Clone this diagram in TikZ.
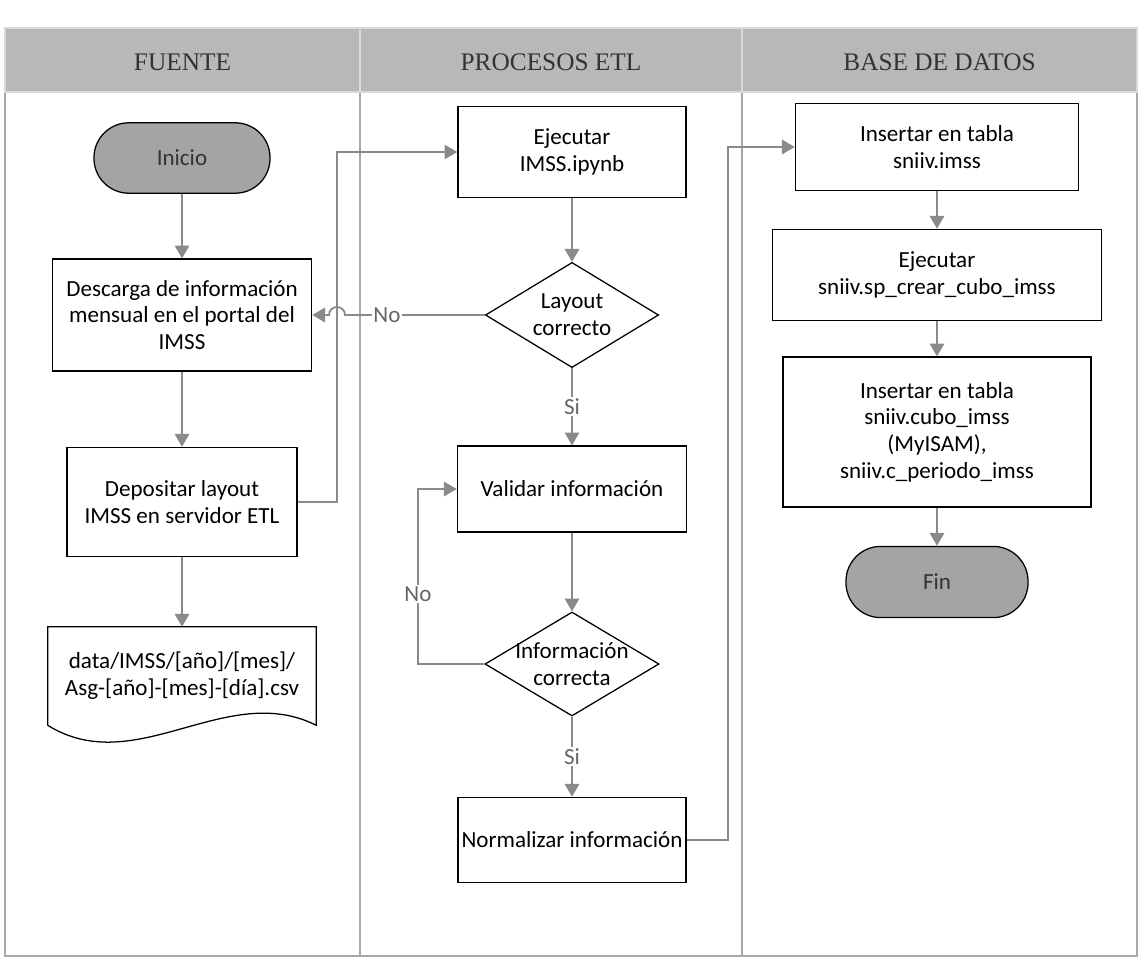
\documentclass[tikz,border=0pt]{standalone}
\usepackage{fontspec}
\setmainfont{Carlito}
\newfontfamily\titfont{Liberation Serif}
\usetikzlibrary{shapes.geometric,arrows.meta,calc}
\definecolor{gristit}{HTML}{B8B8B8}
\definecolor{grismarco}{HTML}{A8A8A8}
\definecolor{grisflecha}{HTML}{8A8A8A}
\definecolor{gristerm}{HTML}{A4A4A4}
\begin{document}
\begin{tikzpicture}[x=0.025cm,y=-0.025cm,
  font=\fontsize{16.4}{19}\selectfont,
  caja/.style={draw,line width=0.9pt,align=center,inner sep=2pt},
  terminal/.style={draw,line width=0.9pt,fill=gristerm,rounded corners=0.87cm,
    minimum width=4.4cm,minimum height=1.76cm,text=black!80},
  decision/.style={draw,line width=0.9pt,diamond,inner sep=0pt},
  flecha/.style={draw=grisflecha,line width=1.3pt,
    -{Triangle[length=0.32cm,width=0.36cm,fill=grisflecha]}},
  etiq/.style={fill=white,text=black!60,inner sep=1pt}]
\useasboundingbox (0,0) rectangle (1144,972);
% carriles
\foreach \xa/\xb/\titulo in {5/360/FUENTE,360/742/PROCESOS ETL,742/1137/BASE DE DATOS}
{
\draw[grismarco,line width=1pt] (\xa,92) rectangle (\xb,956);
\filldraw[fill=gristit,draw=white!85!black,line width=1.5pt] (\xa,28) rectangle (\xb,92);
\node[name=t\xa,text=black!80,font=\titfont\fontsize{18}{20}\selectfont] at ({(\xa+\xb)/2},62) {\titulo};
}
% FUENTE
\node[terminal] (ini) at (182,158) {Inicio};
\node[caja,minimum width=6.48cm,minimum height=2.8cm] (desc) at (182,315)
  {Descarga de información\\mensual en el portal del\\IMSS};
\node[caja,minimum width=5.75cm,minimum height=2.73cm] (dep) at (182,502)
  {Depositar layout\\IMSS en servidor ETL};
\node[align=center,minimum width=6.7cm,minimum height=2.45cm,inner sep=0pt] (doc) at (182,676)
  {data/IMSS/[año]/[mes]/\\Asg-[año]-[mes]-[día].csv};
\draw[line width=0.9pt] (doc.south west) -- (doc.north west) -- (doc.north east) -- (doc.south east)
  .. controls (226,680) and (136,780) .. (doc.south west);
% PROCESOS ETL
\node[caja,minimum width=5.7cm,minimum height=2.28cm] (eje) at (572,152) {Ejecutar\\IMSS.ipynb};
\node[decision,minimum width=4.33cm,minimum height=2.63cm,
  label={[align=center]center:Layout\\correcto}] (lay) at (572,315) {};
\node[caja,minimum width=5.73cm,minimum height=2.15cm] (val) at (572,489) {Validar información};
\node[decision,minimum width=4.35cm,minimum height=2.6cm,
  label={[align=center]center:Información\\correcta}] (ic) at (572,664) {};
\node[caja,minimum width=5.7cm,minimum height=2.13cm] (norm) at (572,840) {Normalizar información};
% BASE DE DATOS
\node[caja,minimum width=7.08cm,minimum height=2.18cm] (ins1) at (937,147) {Insertar en tabla\\sniiv.imss};
\node[caja,minimum width=8.23cm,minimum height=2.28cm] (eje2) at (937,275) {Ejecutar\\sniiv.sp\_crear\_cubo\_imss};
\node[caja,minimum width=7.7cm,minimum height=3.75cm] (ins2) at (937,432)
  {Insertar en tabla\\sniiv.cubo\_imss\\(MyISAM),\\sniiv.c\_periodo\_imss};
\node[terminal,minimum width=4.55cm,minimum height=1.78cm] (fin) at (937,582) {Fin};
% conectores
\coordinate (c1) at (337,0);
\coordinate (c2) at (418,0);
\coordinate (c3) at (728,0);
\coordinate (salto) at (337,315);
\draw[flecha] (ini) -- (desc);
\draw[flecha] (desc) -- (dep);
\draw[flecha] (dep) -- (doc.north);
\draw[flecha] (dep.east) -- (dep.east -| c1) |- (eje.west);
\draw[flecha] (eje) -- (lay);
\draw[flecha] (lay.west) -- node[etiq,pos=0.7] {No} ([xshift=0.2cm]salto)
  arc[start angle=0,end angle=180,radius=0.2cm] -- (desc.east);
\draw[flecha] (lay.south) -- node[etiq] {Si} (val.north);
\draw[flecha] (val) -- (ic);
\draw[flecha] (ic.west) -- (ic.west -| c2) -- node[etiq,pos=0.4] {No} (val.west -| c2) -- (val.west);
\draw[flecha] (ic.south) -- node[etiq] {Si} (norm.north);
\draw[flecha] (norm.east) -- (norm.east -| c3) |- (ins1.west);
\draw[flecha] (ins1) -- (eje2);
\draw[flecha] (eje2) -- (ins2);
\draw[flecha] (ins2) -- (fin);
\end{tikzpicture}
\end{document}
